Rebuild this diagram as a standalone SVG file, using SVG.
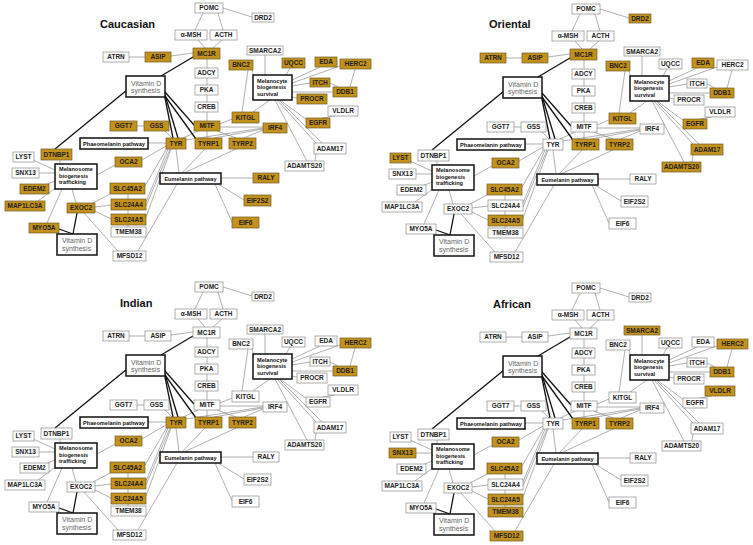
<svg xmlns="http://www.w3.org/2000/svg" xmlns:xlink="http://www.w3.org/1999/xlink" width="753" height="545" viewBox="0 0 753 545">
<style>
.n rect{fill:#fff;stroke:#8a8a8a;stroke-width:.7}
.n.g rect{fill:#C4911A;stroke:#6e5c2c}
.n text{font-family:"Liberation Sans",Arial,sans-serif;font-weight:bold;font-size:6.5px;fill:#222;text-anchor:middle}
.b rect{fill:#fff;stroke:#111;stroke-width:1.5}
.b text{font-family:"Liberation Sans",Arial,sans-serif;font-weight:bold;font-size:5.6px;fill:#111}
.b text.c{text-anchor:middle}
.v text{font-family:"Liberation Sans",Arial,sans-serif;font-weight:normal;font-size:7px;fill:#666}
.t{font-family:"Liberation Sans",Arial,sans-serif;font-weight:bold;font-size:11px;fill:#111}
.thin path{stroke:#7a7a7a;stroke-width:.6;fill:none}
.bold path{stroke:#111;stroke-width:1.3;fill:none}
</style>
<defs>
<g id="edges">
<g class="thin">
<path d="M223 8L252 17"/><path d="M203 13L195 30"/><path d="M218 13L223 30"/>
<path d="M198 40L205 48"/><path d="M222 40L213 48"/>
<path d="M129 57L145 57"/><path d="M171 56L193 53"/>
<path d="M207 59L207 121"/>
<path d="M265 55L265 75"/><path d="M290 68L286 75"/><path d="M320 67L292 80"/>
<path d="M340 66L292 83"/><path d="M310 83L292 86"/><path d="M330 83L338 87"/>
<path d="M355 69L350 87"/><path d="M333 92L292 92"/><path d="M297 98L292 97"/>
<path d="M252 70L254 77"/><path d="M248 70L242 112"/><path d="M253 112L270 100"/>
<path d="M280 100L307 120"/><path d="M277 100L316 143"/><path d="M279 100L322 143"/>
<path d="M275 100L307 161"/><path d="M323 118L335 116"/><path d="M316 154L315 161"/>
<path d="M232 119L220 124"/><path d="M263 127L220 127"/><path d="M263 128L186 140"/>
<path d="M263 129L214 138"/><path d="M263 130L244 138"/>
<path d="M207 131L207 138"/><path d="M217 131L236 138"/><path d="M198 131L183 138"/>
<path d="M137 126L144 126"/><path d="M165 131L172 138"/><path d="M148 143L166 143"/>
<path d="M176 149L179 173"/><path d="M205 149L182 173"/><path d="M236 149L184 173"/>
<path d="M221 178L253 178"/><path d="M218 184L244 200"/><path d="M215 184L232 222"/>
<path d="M177 184L138 251"/>
<path d="M166 146L142 160"/><path d="M167 148L145 186"/><path d="M168 149L146 202"/>
<path d="M170 149L146 206"/><path d="M171 149L146 217"/>
<path d="M128 194L128 227"/>
<path d="M115 165L97 175"/><path d="M93 203L112 193"/><path d="M95 207L111 205"/>
<path d="M95 211L111 219"/><path d="M84 213L118 251"/>
<path d="M72 189L76 203"/><path d="M62 189L47 223"/>
<path d="M33 160L55 170"/><path d="M39 173L55 173"/><path d="M43 186L55 181"/>
<path d="M38 201L57 187"/><path d="M60 160L60 164"/>
</g>
<g class="bold">
<path d="M193 57L161 76"/><path d="M127 90L55 149"/>
<path d="M164 93L173 138"/><path d="M165 95L178 138"/><path d="M165 96L196 139"/>
<path d="M165 92L194 125"/>
<path d="M77 213L73 234"/><path d="M59 229L73 234"/>
</g>
</g>
</defs>
<rect width="753" height="545" fill="#fff"/>
<g id="connectors">
<use xlink:href="#edges" href="#edges" transform="translate(0,0)"/>
<use xlink:href="#edges" href="#edges" transform="translate(377,1)"/>
<use xlink:href="#edges" href="#edges" transform="translate(0,279)"/>
<use xlink:href="#edges" href="#edges" transform="translate(377,280)"/>
</g>

<g id="caucasian" transform="translate(0,0)">
<text class="t" x="100" y="28">Caucasian</text>
<g id="c-POMC" class="n"><rect x="195" y="3" width="28" height="10"/><text x="209" y="10.2">POMC</text></g>
<g id="c-DRD2" class="n"><rect x="252" y="13" width="22" height="9"/><text x="263" y="19.7">DRD2</text></g>
<g id="c-aMSH" class="n"><rect x="175" y="30" width="32" height="10"/><text x="191" y="37.2">α-MSH</text></g>
<g id="c-ACTH" class="n"><rect x="210" y="30" width="27" height="10"/><text x="223.5" y="37.2">ACTH</text></g>
<g id="c-ATRN" class="n"><rect x="103" y="52" width="26" height="10"/><text x="116" y="59.2">ATRN</text></g>
<g id="c-ASIP" class="n g"><rect x="145" y="52" width="26" height="10"/><text x="158" y="59.2">ASIP</text></g>
<g id="c-MC1R" class="n g"><rect x="193" y="48" width="27" height="11"/><text x="206.5" y="55.7">MC1R</text></g>
<g id="c-SMARCA2" class="n"><rect x="247" y="46" width="36" height="9"/><text x="265" y="52.7">SMARCA2</text></g>
<g id="c-BNC2" class="n g"><rect x="229" y="60" width="24" height="10"/><text x="241" y="67.2">BNC2</text></g>
<g id="c-UQCC" class="n g"><rect x="282" y="58" width="23" height="10"/><text x="293.5" y="65.2">UQCC</text></g>
<g id="c-EDA" class="n g"><rect x="315" y="57" width="22" height="10"/><text x="326" y="64.2">EDA</text></g>
<g id="c-HERC2" class="n g"><rect x="340" y="59" width="31" height="10"/><text x="355.5" y="66.2">HERC2</text></g>
<g id="c-ADCY" class="n"><rect x="195" y="68" width="23" height="10"/><text x="206.5" y="75.2">ADCY</text></g>
<g id="c-ITCH" class="n g"><rect x="310" y="78" width="20" height="9"/><text x="320" y="84.7">ITCH</text></g>
<g id="c-DDB1" class="n g"><rect x="333" y="87" width="24" height="10"/><text x="345" y="94.2">DDB1</text></g>
<g id="c-PKA" class="n"><rect x="195" y="85" width="23" height="10"/><text x="206.5" y="92.2">PKA</text></g>
<g id="c-PROCR" class="n g"><rect x="297" y="94" width="30" height="10"/><text x="312" y="101.2">PROCR</text></g>
<g id="c-CREB" class="n"><rect x="195" y="102" width="23" height="10"/><text x="206.5" y="109.2">CREB</text></g>
<g id="c-VLDLR" class="n"><rect x="328" y="106" width="30" height="10"/><text x="343" y="113.2">VLDLR</text></g>
<g id="c-KITGL" class="n g"><rect x="232" y="112" width="27" height="11"/><text x="245.5" y="119.7">KITGL</text></g>
<g id="c-EGFR" class="n g"><rect x="306" y="118" width="24" height="10"/><text x="318" y="125.2">EGFR</text></g>
<g id="c-GGT7" class="n g"><rect x="110" y="121" width="27" height="10"/><text x="123.5" y="128.2">GGT7</text></g>
<g id="c-GSS" class="n g"><rect x="144" y="121" width="25" height="10"/><text x="156.5" y="128.2">GSS</text></g>
<g id="c-MITF" class="n g"><rect x="194" y="121" width="26" height="10"/><text x="207" y="128.2">MITF</text></g>
<g id="c-IRF4" class="n g"><rect x="263" y="123" width="24" height="10"/><text x="275" y="130.2">IRF4</text></g>
<g id="c-TYR" class="n g"><rect x="166" y="138" width="20" height="11"/><text x="176" y="145.7">TYR</text></g>
<g id="c-TYRP1" class="n g"><rect x="195" y="138" width="27" height="11"/><text x="208.5" y="145.7">TYRP1</text></g>
<g id="c-TYRP2" class="n g"><rect x="229" y="138" width="27" height="11"/><text x="242.5" y="145.7">TYRP2</text></g>
<g id="c-ADAM17" class="n"><rect x="314" y="143" width="32" height="11"/><text x="330" y="150.7">ADAM17</text></g>
<g id="c-DTNBP1" class="n g"><rect x="41" y="149" width="31" height="11"/><text x="56.5" y="156.7">DTNBP1</text></g>
<g id="c-LYST" class="n"><rect x="13" y="152" width="21" height="10"/><text x="23.5" y="159.2">LYST</text></g>
<g id="c-OCA2" class="n g"><rect x="115" y="157" width="27" height="10"/><text x="128.5" y="164.2">OCA2</text></g>
<g id="c-ADAMTS20" class="n"><rect x="285" y="161" width="39" height="10"/><text x="304.5" y="168.2">ADAMTS20</text></g>
<g id="c-SNX13" class="n"><rect x="12" y="168" width="27" height="10"/><text x="25.5" y="175.2">SNX13</text></g>
<g id="c-RALY" class="n g"><rect x="253" y="173" width="26" height="10"/><text x="266" y="180.2">RALY</text></g>
<g id="c-EDEM2" class="n g"><rect x="20" y="184" width="29" height="10"/><text x="34.5" y="191.2">EDEM2</text></g>
<g id="c-SLC45A2" class="n g"><rect x="110" y="183" width="35" height="11"/><text x="127.5" y="190.7">SLC45A2</text></g>
<g id="c-EIF2S2" class="n g"><rect x="244" y="195" width="27" height="11"/><text x="257.5" y="202.7">EIF2S2</text></g>
<g id="c-MAP1LC3A" class="n g"><rect x="5" y="201" width="40" height="10"/><text x="25" y="208.2">MAP1LC3A</text></g>
<g id="c-EXOC2" class="n g"><rect x="67" y="203" width="28" height="10"/><text x="81" y="210.2">EXOC2</text></g>
<g id="c-SLC24A4" class="n g"><rect x="111" y="199" width="35" height="11"/><text x="128.5" y="206.7">SLC24A4</text></g>
<g id="c-SLC24A5" class="n g"><rect x="111" y="214" width="35" height="11"/><text x="128.5" y="221.7">SLC24A5</text></g>
<g id="c-EIF6" class="n g"><rect x="232" y="217" width="27" height="11"/><text x="245.5" y="224.7">EIF6</text></g>
<g id="c-MYO5A" class="n g"><rect x="29" y="223" width="30" height="10"/><text x="44" y="230.2">MYO5A</text></g>
<g id="c-TMEM38" class="n"><rect x="111" y="227" width="35" height="10"/><text x="128.5" y="234.2">TMEM38</text></g>
<g id="c-MFSD12" class="n"><rect x="113" y="251" width="33" height="10"/><text x="129.5" y="258.2">MFSD12</text></g>
<g id="c-VitD1" class="b v"><rect x="126" y="76" width="39" height="21"/><text x="131" y="85.5">Vitamin D</text><text x="131" y="93">synthesis</text></g>
<g id="c-VitD2" class="b v"><rect x="57" y="234" width="40" height="21"/><text x="62" y="243">Vitamin D</text><text x="62" y="251">synthesis</text></g>
<g id="c-MBS" class="b"><rect x="253" y="75" width="39" height="25"/><text x="257" y="82.5">Melanocyte</text><text x="257" y="89">biogenesis</text><text x="257" y="95.5">survival</text></g>
<g id="c-MBT" class="b"><rect x="55" y="164" width="42" height="25"/><text x="59" y="171">Melanosome</text><text x="59" y="177.5">biogenesis</text><text x="59" y="184">trafficking</text></g>
<g id="c-Phaeo" class="b"><rect x="80" y="138" width="68" height="11"/><text class="c" x="114" y="145.5">Phaeomelanin pathway</text></g>
<g id="c-Eumel" class="b"><rect x="160" y="173" width="61" height="11"/><text class="c" x="190.5" y="180.5">Eumelanin pathway</text></g>
</g>

<g id="oriental" transform="translate(377,1)">
<text class="t" x="112" y="27">Oriental</text>
<g id="o-POMC" class="n"><rect x="195" y="3" width="28" height="10"/><text x="209" y="10.2">POMC</text></g>
<g id="o-DRD2" class="n g"><rect x="252" y="13" width="22" height="9"/><text x="263" y="19.7">DRD2</text></g>
<g id="o-aMSH" class="n"><rect x="175" y="30" width="32" height="10"/><text x="191" y="37.2">α-MSH</text></g>
<g id="o-ACTH" class="n"><rect x="210" y="30" width="27" height="10"/><text x="223.5" y="37.2">ACTH</text></g>
<g id="o-ATRN" class="n g"><rect x="103" y="52" width="26" height="10"/><text x="116" y="59.2">ATRN</text></g>
<g id="o-ASIP" class="n g"><rect x="145" y="52" width="26" height="10"/><text x="158" y="59.2">ASIP</text></g>
<g id="o-MC1R" class="n g"><rect x="193" y="48" width="27" height="11"/><text x="206.5" y="55.7">MC1R</text></g>
<g id="o-SMARCA2" class="n"><rect x="247" y="46" width="36" height="9"/><text x="265" y="52.7">SMARCA2</text></g>
<g id="o-BNC2" class="n g"><rect x="229" y="60" width="24" height="10"/><text x="241" y="67.2">BNC2</text></g>
<g id="o-UQCC" class="n"><rect x="282" y="58" width="23" height="10"/><text x="293.5" y="65.2">UQCC</text></g>
<g id="o-EDA" class="n g"><rect x="315" y="57" width="22" height="10"/><text x="326" y="64.2">EDA</text></g>
<g id="o-HERC2" class="n"><rect x="340" y="59" width="31" height="10"/><text x="355.5" y="66.2">HERC2</text></g>
<g id="o-ADCY" class="n"><rect x="195" y="68" width="23" height="10"/><text x="206.5" y="75.2">ADCY</text></g>
<g id="o-ITCH" class="n"><rect x="310" y="78" width="20" height="9"/><text x="320" y="84.7">ITCH</text></g>
<g id="o-DDB1" class="n g"><rect x="333" y="87" width="24" height="10"/><text x="345" y="94.2">DDB1</text></g>
<g id="o-PKA" class="n"><rect x="195" y="85" width="23" height="10"/><text x="206.5" y="92.2">PKA</text></g>
<g id="o-PROCR" class="n"><rect x="297" y="94" width="30" height="10"/><text x="312" y="101.2">PROCR</text></g>
<g id="o-CREB" class="n"><rect x="195" y="102" width="23" height="10"/><text x="206.5" y="109.2">CREB</text></g>
<g id="o-VLDLR" class="n"><rect x="328" y="106" width="30" height="10"/><text x="343" y="113.2">VLDLR</text></g>
<g id="o-KITGL" class="n g"><rect x="232" y="112" width="27" height="11"/><text x="245.5" y="119.7">KITGL</text></g>
<g id="o-EGFR" class="n g"><rect x="306" y="118" width="24" height="10"/><text x="318" y="125.2">EGFR</text></g>
<g id="o-GGT7" class="n"><rect x="110" y="121" width="27" height="10"/><text x="123.5" y="128.2">GGT7</text></g>
<g id="o-GSS" class="n"><rect x="144" y="121" width="25" height="10"/><text x="156.5" y="128.2">GSS</text></g>
<g id="o-MITF" class="n"><rect x="194" y="121" width="26" height="10"/><text x="207" y="128.2">MITF</text></g>
<g id="o-IRF4" class="n"><rect x="263" y="123" width="24" height="10"/><text x="275" y="130.2">IRF4</text></g>
<g id="o-TYR" class="n"><rect x="166" y="138" width="20" height="11"/><text x="176" y="145.7">TYR</text></g>
<g id="o-TYRP1" class="n g"><rect x="195" y="138" width="27" height="11"/><text x="208.5" y="145.7">TYRP1</text></g>
<g id="o-TYRP2" class="n g"><rect x="229" y="138" width="27" height="11"/><text x="242.5" y="145.7">TYRP2</text></g>
<g id="o-ADAM17" class="n g"><rect x="314" y="143" width="32" height="11"/><text x="330" y="150.7">ADAM17</text></g>
<g id="o-DTNBP1" class="n"><rect x="41" y="149" width="31" height="11"/><text x="56.5" y="156.7">DTNBP1</text></g>
<g id="o-LYST" class="n g"><rect x="13" y="152" width="21" height="10"/><text x="23.5" y="159.2">LYST</text></g>
<g id="o-OCA2" class="n g"><rect x="115" y="157" width="27" height="10"/><text x="128.5" y="164.2">OCA2</text></g>
<g id="o-ADAMTS20" class="n g"><rect x="285" y="161" width="39" height="10"/><text x="304.5" y="168.2">ADAMTS20</text></g>
<g id="o-SNX13" class="n"><rect x="12" y="168" width="27" height="10"/><text x="25.5" y="175.2">SNX13</text></g>
<g id="o-RALY" class="n"><rect x="253" y="173" width="26" height="10"/><text x="266" y="180.2">RALY</text></g>
<g id="o-EDEM2" class="n"><rect x="20" y="184" width="29" height="10"/><text x="34.5" y="191.2">EDEM2</text></g>
<g id="o-SLC45A2" class="n g"><rect x="110" y="183" width="35" height="11"/><text x="127.5" y="190.7">SLC45A2</text></g>
<g id="o-EIF2S2" class="n"><rect x="244" y="195" width="27" height="11"/><text x="257.5" y="202.7">EIF2S2</text></g>
<g id="o-MAP1LC3A" class="n"><rect x="5" y="201" width="40" height="10"/><text x="25" y="208.2">MAP1LC3A</text></g>
<g id="o-EXOC2" class="n"><rect x="67" y="203" width="28" height="10"/><text x="81" y="210.2">EXOC2</text></g>
<g id="o-SLC24A4" class="n"><rect x="111" y="199" width="35" height="11"/><text x="128.5" y="206.7">SLC24A4</text></g>
<g id="o-SLC24A5" class="n g"><rect x="111" y="214" width="35" height="11"/><text x="128.5" y="221.7">SLC24A5</text></g>
<g id="o-EIF6" class="n"><rect x="232" y="217" width="27" height="11"/><text x="245.5" y="224.7">EIF6</text></g>
<g id="o-MYO5A" class="n"><rect x="29" y="223" width="30" height="10"/><text x="44" y="230.2">MYO5A</text></g>
<g id="o-TMEM38" class="n"><rect x="111" y="227" width="35" height="10"/><text x="128.5" y="234.2">TMEM38</text></g>
<g id="o-MFSD12" class="n"><rect x="113" y="251" width="33" height="10"/><text x="129.5" y="258.2">MFSD12</text></g>
<g id="o-VitD1" class="b v"><rect x="126" y="76" width="39" height="21"/><text x="131" y="85.5">Vitamin D</text><text x="131" y="93">synthesis</text></g>
<g id="o-VitD2" class="b v"><rect x="57" y="234" width="40" height="21"/><text x="62" y="243">Vitamin D</text><text x="62" y="251">synthesis</text></g>
<g id="o-MBS" class="b"><rect x="253" y="75" width="39" height="25"/><text x="257" y="82.5">Melanocyte</text><text x="257" y="89">biogenesis</text><text x="257" y="95.5">survival</text></g>
<g id="o-MBT" class="b"><rect x="55" y="164" width="42" height="25"/><text x="59" y="171">Melanosome</text><text x="59" y="177.5">biogenesis</text><text x="59" y="184">trafficking</text></g>
<g id="o-Phaeo" class="b"><rect x="80" y="138" width="68" height="11"/><text class="c" x="114" y="145.5">Phaeomelanin pathway</text></g>
<g id="o-Eumel" class="b"><rect x="160" y="173" width="61" height="11"/><text class="c" x="190.5" y="180.5">Eumelanin pathway</text></g>
</g>

<g id="indian" transform="translate(0,279)">
<text class="t" x="120" y="28">Indian</text>
<g id="i-POMC" class="n"><rect x="195" y="3" width="28" height="10"/><text x="209" y="10.2">POMC</text></g>
<g id="i-DRD2" class="n"><rect x="252" y="13" width="22" height="9"/><text x="263" y="19.7">DRD2</text></g>
<g id="i-aMSH" class="n"><rect x="175" y="30" width="32" height="10"/><text x="191" y="37.2">α-MSH</text></g>
<g id="i-ACTH" class="n"><rect x="210" y="30" width="27" height="10"/><text x="223.5" y="37.2">ACTH</text></g>
<g id="i-ATRN" class="n"><rect x="103" y="52" width="26" height="10"/><text x="116" y="59.2">ATRN</text></g>
<g id="i-ASIP" class="n"><rect x="145" y="52" width="26" height="10"/><text x="158" y="59.2">ASIP</text></g>
<g id="i-MC1R" class="n"><rect x="193" y="48" width="27" height="11"/><text x="206.5" y="55.7">MC1R</text></g>
<g id="i-SMARCA2" class="n"><rect x="247" y="46" width="36" height="9"/><text x="265" y="52.7">SMARCA2</text></g>
<g id="i-BNC2" class="n"><rect x="229" y="60" width="24" height="10"/><text x="241" y="67.2">BNC2</text></g>
<g id="i-UQCC" class="n"><rect x="282" y="58" width="23" height="10"/><text x="293.5" y="65.2">UQCC</text></g>
<g id="i-EDA" class="n"><rect x="315" y="57" width="22" height="10"/><text x="326" y="64.2">EDA</text></g>
<g id="i-HERC2" class="n g"><rect x="340" y="59" width="31" height="10"/><text x="355.5" y="66.2">HERC2</text></g>
<g id="i-ADCY" class="n"><rect x="195" y="68" width="23" height="10"/><text x="206.5" y="75.2">ADCY</text></g>
<g id="i-ITCH" class="n"><rect x="310" y="78" width="20" height="9"/><text x="320" y="84.7">ITCH</text></g>
<g id="i-DDB1" class="n g"><rect x="333" y="87" width="24" height="10"/><text x="345" y="94.2">DDB1</text></g>
<g id="i-PKA" class="n"><rect x="195" y="85" width="23" height="10"/><text x="206.5" y="92.2">PKA</text></g>
<g id="i-PROCR" class="n"><rect x="297" y="94" width="30" height="10"/><text x="312" y="101.2">PROCR</text></g>
<g id="i-CREB" class="n"><rect x="195" y="102" width="23" height="10"/><text x="206.5" y="109.2">CREB</text></g>
<g id="i-VLDLR" class="n"><rect x="328" y="106" width="30" height="10"/><text x="343" y="113.2">VLDLR</text></g>
<g id="i-KITGL" class="n"><rect x="232" y="112" width="27" height="11"/><text x="245.5" y="119.7">KITGL</text></g>
<g id="i-EGFR" class="n"><rect x="306" y="118" width="24" height="10"/><text x="318" y="125.2">EGFR</text></g>
<g id="i-GGT7" class="n"><rect x="110" y="121" width="27" height="10"/><text x="123.5" y="128.2">GGT7</text></g>
<g id="i-GSS" class="n"><rect x="144" y="121" width="25" height="10"/><text x="156.5" y="128.2">GSS</text></g>
<g id="i-MITF" class="n"><rect x="194" y="121" width="26" height="10"/><text x="207" y="128.2">MITF</text></g>
<g id="i-IRF4" class="n"><rect x="263" y="123" width="24" height="10"/><text x="275" y="130.2">IRF4</text></g>
<g id="i-TYR" class="n g"><rect x="166" y="138" width="20" height="11"/><text x="176" y="145.7">TYR</text></g>
<g id="i-TYRP1" class="n g"><rect x="195" y="138" width="27" height="11"/><text x="208.5" y="145.7">TYRP1</text></g>
<g id="i-TYRP2" class="n g"><rect x="229" y="138" width="27" height="11"/><text x="242.5" y="145.7">TYRP2</text></g>
<g id="i-ADAM17" class="n"><rect x="314" y="143" width="32" height="11"/><text x="330" y="150.7">ADAM17</text></g>
<g id="i-DTNBP1" class="n"><rect x="41" y="149" width="31" height="11"/><text x="56.5" y="156.7">DTNBP1</text></g>
<g id="i-LYST" class="n"><rect x="13" y="152" width="21" height="10"/><text x="23.5" y="159.2">LYST</text></g>
<g id="i-OCA2" class="n g"><rect x="115" y="157" width="27" height="10"/><text x="128.5" y="164.2">OCA2</text></g>
<g id="i-ADAMTS20" class="n"><rect x="285" y="161" width="39" height="10"/><text x="304.5" y="168.2">ADAMTS20</text></g>
<g id="i-SNX13" class="n"><rect x="12" y="168" width="27" height="10"/><text x="25.5" y="175.2">SNX13</text></g>
<g id="i-RALY" class="n"><rect x="253" y="173" width="26" height="10"/><text x="266" y="180.2">RALY</text></g>
<g id="i-EDEM2" class="n"><rect x="20" y="184" width="29" height="10"/><text x="34.5" y="191.2">EDEM2</text></g>
<g id="i-SLC45A2" class="n g"><rect x="110" y="183" width="35" height="11"/><text x="127.5" y="190.7">SLC45A2</text></g>
<g id="i-EIF2S2" class="n"><rect x="244" y="195" width="27" height="11"/><text x="257.5" y="202.7">EIF2S2</text></g>
<g id="i-MAP1LC3A" class="n"><rect x="5" y="201" width="40" height="10"/><text x="25" y="208.2">MAP1LC3A</text></g>
<g id="i-EXOC2" class="n"><rect x="67" y="203" width="28" height="10"/><text x="81" y="210.2">EXOC2</text></g>
<g id="i-SLC24A4" class="n g"><rect x="111" y="199" width="35" height="11"/><text x="128.5" y="206.7">SLC24A4</text></g>
<g id="i-SLC24A5" class="n g"><rect x="111" y="214" width="35" height="11"/><text x="128.5" y="221.7">SLC24A5</text></g>
<g id="i-EIF6" class="n"><rect x="232" y="217" width="27" height="11"/><text x="245.5" y="224.7">EIF6</text></g>
<g id="i-MYO5A" class="n"><rect x="29" y="223" width="30" height="10"/><text x="44" y="230.2">MYO5A</text></g>
<g id="i-TMEM38" class="n"><rect x="111" y="227" width="35" height="10"/><text x="128.5" y="234.2">TMEM38</text></g>
<g id="i-MFSD12" class="n"><rect x="113" y="251" width="33" height="10"/><text x="129.5" y="258.2">MFSD12</text></g>
<g id="i-VitD1" class="b v"><rect x="126" y="76" width="39" height="21"/><text x="131" y="85.5">Vitamin D</text><text x="131" y="93">synthesis</text></g>
<g id="i-VitD2" class="b v"><rect x="57" y="234" width="40" height="21"/><text x="62" y="243">Vitamin D</text><text x="62" y="251">synthesis</text></g>
<g id="i-MBS" class="b"><rect x="253" y="75" width="39" height="25"/><text x="257" y="82.5">Melanocyte</text><text x="257" y="89">biogenesis</text><text x="257" y="95.5">survival</text></g>
<g id="i-MBT" class="b"><rect x="55" y="164" width="42" height="25"/><text x="59" y="171">Melanosome</text><text x="59" y="177.5">biogenesis</text><text x="59" y="184">trafficking</text></g>
<g id="i-Phaeo" class="b"><rect x="80" y="138" width="68" height="11"/><text class="c" x="114" y="145.5">Phaeomelanin pathway</text></g>
<g id="i-Eumel" class="b"><rect x="160" y="173" width="61" height="11"/><text class="c" x="190.5" y="180.5">Eumelanin pathway</text></g>
</g>

<g id="african" transform="translate(377,280)">
<text class="t" x="116" y="28">African</text>
<g id="a-POMC" class="n"><rect x="195" y="3" width="28" height="10"/><text x="209" y="10.2">POMC</text></g>
<g id="a-DRD2" class="n"><rect x="252" y="13" width="22" height="9"/><text x="263" y="19.7">DRD2</text></g>
<g id="a-aMSH" class="n"><rect x="175" y="30" width="32" height="10"/><text x="191" y="37.2">α-MSH</text></g>
<g id="a-ACTH" class="n"><rect x="210" y="30" width="27" height="10"/><text x="223.5" y="37.2">ACTH</text></g>
<g id="a-ATRN" class="n"><rect x="103" y="52" width="26" height="10"/><text x="116" y="59.2">ATRN</text></g>
<g id="a-ASIP" class="n"><rect x="145" y="52" width="26" height="10"/><text x="158" y="59.2">ASIP</text></g>
<g id="a-MC1R" class="n"><rect x="193" y="48" width="27" height="11"/><text x="206.5" y="55.7">MC1R</text></g>
<g id="a-SMARCA2" class="n g"><rect x="247" y="46" width="36" height="9"/><text x="265" y="52.7">SMARCA2</text></g>
<g id="a-BNC2" class="n"><rect x="229" y="60" width="24" height="10"/><text x="241" y="67.2">BNC2</text></g>
<g id="a-UQCC" class="n"><rect x="282" y="58" width="23" height="10"/><text x="293.5" y="65.2">UQCC</text></g>
<g id="a-EDA" class="n"><rect x="315" y="57" width="22" height="10"/><text x="326" y="64.2">EDA</text></g>
<g id="a-HERC2" class="n g"><rect x="340" y="59" width="31" height="10"/><text x="355.5" y="66.2">HERC2</text></g>
<g id="a-ADCY" class="n"><rect x="195" y="68" width="23" height="10"/><text x="206.5" y="75.2">ADCY</text></g>
<g id="a-ITCH" class="n"><rect x="310" y="78" width="20" height="9"/><text x="320" y="84.7">ITCH</text></g>
<g id="a-DDB1" class="n g"><rect x="333" y="87" width="24" height="10"/><text x="345" y="94.2">DDB1</text></g>
<g id="a-PKA" class="n"><rect x="195" y="85" width="23" height="10"/><text x="206.5" y="92.2">PKA</text></g>
<g id="a-PROCR" class="n"><rect x="297" y="94" width="30" height="10"/><text x="312" y="101.2">PROCR</text></g>
<g id="a-CREB" class="n"><rect x="195" y="102" width="23" height="10"/><text x="206.5" y="109.2">CREB</text></g>
<g id="a-VLDLR" class="n g"><rect x="328" y="106" width="30" height="10"/><text x="343" y="113.2">VLDLR</text></g>
<g id="a-KITGL" class="n"><rect x="232" y="112" width="27" height="11"/><text x="245.5" y="119.7">KITGL</text></g>
<g id="a-EGFR" class="n"><rect x="306" y="118" width="24" height="10"/><text x="318" y="125.2">EGFR</text></g>
<g id="a-GGT7" class="n"><rect x="110" y="121" width="27" height="10"/><text x="123.5" y="128.2">GGT7</text></g>
<g id="a-GSS" class="n"><rect x="144" y="121" width="25" height="10"/><text x="156.5" y="128.2">GSS</text></g>
<g id="a-MITF" class="n"><rect x="194" y="121" width="26" height="10"/><text x="207" y="128.2">MITF</text></g>
<g id="a-IRF4" class="n"><rect x="263" y="123" width="24" height="10"/><text x="275" y="130.2">IRF4</text></g>
<g id="a-TYR" class="n"><rect x="166" y="138" width="20" height="11"/><text x="176" y="145.7">TYR</text></g>
<g id="a-TYRP1" class="n g"><rect x="195" y="138" width="27" height="11"/><text x="208.5" y="145.7">TYRP1</text></g>
<g id="a-TYRP2" class="n g"><rect x="229" y="138" width="27" height="11"/><text x="242.5" y="145.7">TYRP2</text></g>
<g id="a-ADAM17" class="n"><rect x="314" y="143" width="32" height="11"/><text x="330" y="150.7">ADAM17</text></g>
<g id="a-DTNBP1" class="n"><rect x="41" y="149" width="31" height="11"/><text x="56.5" y="156.7">DTNBP1</text></g>
<g id="a-LYST" class="n"><rect x="13" y="152" width="21" height="10"/><text x="23.5" y="159.2">LYST</text></g>
<g id="a-OCA2" class="n g"><rect x="115" y="157" width="27" height="10"/><text x="128.5" y="164.2">OCA2</text></g>
<g id="a-ADAMTS20" class="n"><rect x="285" y="161" width="39" height="10"/><text x="304.5" y="168.2">ADAMTS20</text></g>
<g id="a-SNX13" class="n g"><rect x="12" y="168" width="27" height="10"/><text x="25.5" y="175.2">SNX13</text></g>
<g id="a-RALY" class="n"><rect x="253" y="173" width="26" height="10"/><text x="266" y="180.2">RALY</text></g>
<g id="a-EDEM2" class="n"><rect x="20" y="184" width="29" height="10"/><text x="34.5" y="191.2">EDEM2</text></g>
<g id="a-SLC45A2" class="n g"><rect x="110" y="183" width="35" height="11"/><text x="127.5" y="190.7">SLC45A2</text></g>
<g id="a-EIF2S2" class="n"><rect x="244" y="195" width="27" height="11"/><text x="257.5" y="202.7">EIF2S2</text></g>
<g id="a-MAP1LC3A" class="n"><rect x="5" y="201" width="40" height="10"/><text x="25" y="208.2">MAP1LC3A</text></g>
<g id="a-EXOC2" class="n"><rect x="67" y="203" width="28" height="10"/><text x="81" y="210.2">EXOC2</text></g>
<g id="a-SLC24A4" class="n"><rect x="111" y="199" width="35" height="11"/><text x="128.5" y="206.7">SLC24A4</text></g>
<g id="a-SLC24A5" class="n g"><rect x="111" y="214" width="35" height="11"/><text x="128.5" y="221.7">SLC24A5</text></g>
<g id="a-EIF6" class="n"><rect x="232" y="217" width="27" height="11"/><text x="245.5" y="224.7">EIF6</text></g>
<g id="a-MYO5A" class="n"><rect x="29" y="223" width="30" height="10"/><text x="44" y="230.2">MYO5A</text></g>
<g id="a-TMEM38" class="n g"><rect x="111" y="227" width="35" height="10"/><text x="128.5" y="234.2">TMEM38</text></g>
<g id="a-MFSD12" class="n g"><rect x="113" y="251" width="33" height="10"/><text x="129.5" y="258.2">MFSD12</text></g>
<g id="a-VitD1" class="b v"><rect x="126" y="76" width="39" height="21"/><text x="131" y="85.5">Vitamin D</text><text x="131" y="93">synthesis</text></g>
<g id="a-VitD2" class="b v"><rect x="57" y="234" width="40" height="21"/><text x="62" y="243">Vitamin D</text><text x="62" y="251">synthesis</text></g>
<g id="a-MBS" class="b"><rect x="253" y="75" width="39" height="25"/><text x="257" y="82.5">Melanocyte</text><text x="257" y="89">biogenesis</text><text x="257" y="95.5">survival</text></g>
<g id="a-MBT" class="b"><rect x="55" y="164" width="42" height="25"/><text x="59" y="171">Melanosome</text><text x="59" y="177.5">biogenesis</text><text x="59" y="184">trafficking</text></g>
<g id="a-Phaeo" class="b"><rect x="80" y="138" width="68" height="11"/><text class="c" x="114" y="145.5">Phaeomelanin pathway</text></g>
<g id="a-Eumel" class="b"><rect x="160" y="173" width="61" height="11"/><text class="c" x="190.5" y="180.5">Eumelanin pathway</text></g>
</g>
</svg>
